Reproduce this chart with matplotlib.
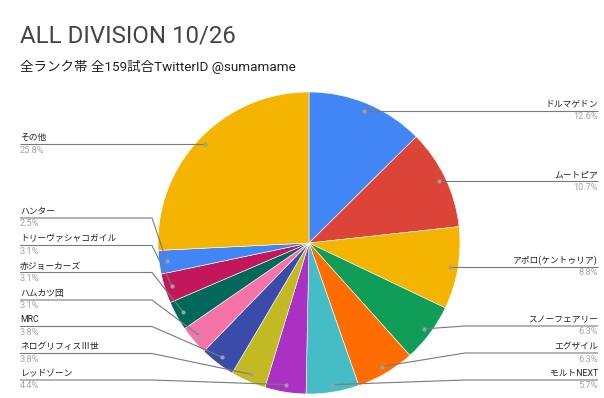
import numpy as np
import matplotlib
matplotlib.use("Agg")
import matplotlib.pyplot as plt

plt.rcParams['font.family'] = ['Roboto', 'Noto Sans CJK JP', 'DejaVu Sans']

# Deck archetypes, clockwise from 12 o'clock
decks = ["ドルマゲドン", "ムートピア", "アポロ(ケントゥリア)", "スノーフェアリー",
         "エグザイル", "モルトNEXT", "レッドゾーン", "ネログリフィスⅢ世", "MRC",
         "ハムカツ団", "赤ジョーカーズ", "トリーヴァシャコガイル", "ハンター", "その他"]
counts = [20, 17, 14, 10, 10, 9, 7, 6, 6, 5, 5, 5, 4, 41]
colors = ["#4285F4", "#DB4437", "#F4B400", "#0F9D58", "#FF6D00", "#46BDC6",
          "#AB30C4", "#C2B923", "#3B4BAA", "#F573A7", "#00695C", "#C2185B",
          "#4285F4", "#F4B400"]

title = "ALL DIVISION 10/26"
subtitle = "全ランク帯 全159試合TwitterID @sumamame"

W, H = 604, 398
fig = plt.figure(figsize=(W / 100, H / 100), dpi=100)

# pie geometry in pixels (top-left origin)
cx, cy, R = 309, 243, 151
ax = fig.add_axes([(cx - R) / W, (H - cy - R) / H, 2 * R / W, 2 * R / H])
ax.axis('off')

ax.pie(counts, colors=colors, startangle=90, counterclock=False, radius=1,
       wedgeprops=dict(edgecolor='white', linewidth=0.4))
ax.set_xlim(-1, 1)
ax.set_ylim(-1, 1)
ax.set_aspect('equal')

# overlay axes in pixel coordinates for leader lines and labels
ov = fig.add_axes([0, 0, 1, 1])
ov.set_xlim(0, W)
ov.set_ylim(H, 0)
ov.axis('off')

total = sum(counts)
cum = np.cumsum([0] + counts[:-1])
mid = (cum + np.array(counts) / 2) / total * 2 * np.pi  # clockwise from top
dot_r = 0.95 * R
dot_x = cx + dot_r * np.sin(mid)
dot_y = cy - dot_r * np.cos(mid)

# label line rows (None: the line runs level with its dot)
right_rows = [None, None, None, 326, 353, 380]
left_rows = {13: None, 12: 218, 11: 245.5, 10: 272.5, 9: 300, 8: 326.5, 7: 353.5, 6: 380}

line_c = "#7a7a7a"
dot_c = "#a0a0a0"
lab_fs = 6.3
pct_fs = 6.6


def put_label(x, ly, i, ha):
    ov.text(x, ly - 4, decks[i], ha=ha, va='baseline', fontsize=lab_fs, color='#222222')
    pct = f"{counts[i] / total * 100:.1f}%"
    ov.text(x, ly + 8.5, pct, ha=ha, va='baseline', fontsize=pct_fs, color='#a4a4a4')


for i, row in enumerate(right_rows):
    ly = dot_y[i] if row is None else row
    ov.plot([dot_x[i], 465, 598], [dot_y[i], ly, ly], color=line_c, lw=0.8,
            solid_capstyle='butt')
    ov.plot(dot_x[i], dot_y[i], 'o', ms=3, color=dot_c, mec='none')
    put_label(598, ly, i, 'right')

for i, row in left_rows.items():
    ly = dot_y[i] if row is None else row
    ov.plot([20, 152, dot_x[i]], [ly, ly, dot_y[i]], color=line_c, lw=0.8,
            solid_capstyle='butt')
    ov.plot(dot_x[i], dot_y[i], 'o', ms=3, color=dot_c, mec='none')
    put_label(20, ly, i, 'left')

ov.text(20, 42, title, ha='left', va='baseline', fontsize=17.3, color='#444444')
ov.text(20, 71, subtitle, ha='left', va='baseline', fontsize=9.7, color='#222222')

fig.savefig("out.png", dpi=100)
